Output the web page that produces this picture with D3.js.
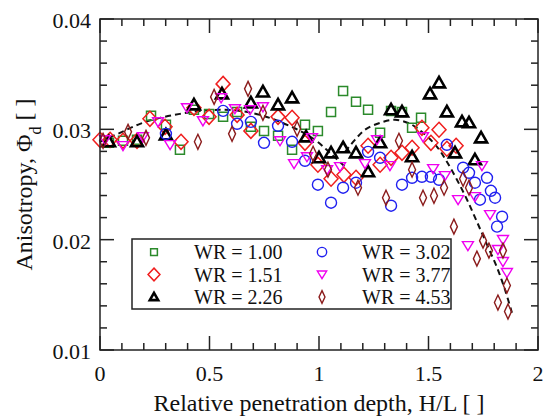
<!DOCTYPE html>
<html>
<head>
<meta charset="utf-8">
<script src="https://cdn.jsdelivr.net/npm/d3@7"></script>
<style>
  body { margin: 0; background: #fff; }
</style>
</head>
<body>
<div id="chart"></div>
<script>
// values: H/L (x) and anisotropy Phi_d (y)
var wr100X = [0.041, 0.105, 0.169, 0.233, 0.301, 0.365, 0.429, 0.498, 0.562, 0.626, 0.689, 0.749, 0.813, 0.877, 0.936, 0.995, 1.055, 1.110, 1.169, 1.224, 1.279, 1.329, 1.379, 1.425, 1.466];
var wr100Y = [0.02878, 0.02896, 0.02905, 0.03122, 0.03041, 0.02815, 0.03177, 0.03140, 0.03113, 0.03158, 0.03023, 0.02986, 0.02941, 0.02815, 0.03041, 0.02986, 0.03158, 0.03348, 0.03249, 0.03177, 0.02968, 0.03167, 0.03158, 0.03014, 0.03104];

var wr151X = [0.000, 0.046, 0.105, 0.169, 0.228, 0.297, 0.370, 0.429, 0.498, 0.562, 0.626, 0.689, 0.813, 0.877, 0.936, 0.995, 1.055, 1.114, 1.169, 1.224, 1.279, 1.329, 1.379, 1.425, 1.470, 1.511, 1.548, 1.584, 1.626];
var wr151Y = [0.02905, 0.02905, 0.02896, 0.02896, 0.03095, 0.03023, 0.02887, 0.03195, 0.03113, 0.03412, 0.03131, 0.02986, 0.03113, 0.03104, 0.02878, 0.02679, 0.02552, 0.02588, 0.02561, 0.02851, 0.02679, 0.02742, 0.02787, 0.02833, 0.03014, 0.02878, 0.02996, 0.02824, 0.02851];

var wr226X = [0.041, 0.169, 0.301, 0.429, 0.557, 0.689, 0.744, 0.813, 0.877, 0.941, 1.000, 1.055, 1.110, 1.169, 1.224, 1.279, 1.329, 1.379, 1.425, 1.507, 1.548, 1.584, 1.621, 1.653, 1.685, 1.712, 1.740];
var wr226Y = [0.02887, 0.02887, 0.02950, 0.03222, 0.03321, 0.03240, 0.03339, 0.03222, 0.03285, 0.02932, 0.02742, 0.02787, 0.02833, 0.02787, 0.02615, 0.02878, 0.03177, 0.03158, 0.02751, 0.03321, 0.03421, 0.03158, 0.02787, 0.03068, 0.03059, 0.02724, 0.02923];

var wr302X = [0.301, 0.562, 0.626, 0.689, 0.749, 0.813, 0.877, 0.936, 0.995, 1.055, 1.110, 1.169, 1.224, 1.279, 1.329, 1.379, 1.425, 1.470, 1.511, 1.548, 1.584, 1.658, 1.685, 1.712, 1.735, 1.767, 1.785, 1.804, 1.836, 1.813];
var wr302Y = [0.02959, 0.03167, 0.03050, 0.03068, 0.02878, 0.03032, 0.02887, 0.02715, 0.02498, 0.02335, 0.02471, 0.02516, 0.02796, 0.02742, 0.02308, 0.02498, 0.02561, 0.02570, 0.02570, 0.02543, 0.02860, 0.02652, 0.02606, 0.02516, 0.02362, 0.02561, 0.02443, 0.02380, 0.02208, 0.02118];

var wr377X = [0.023, 0.105, 0.196, 0.265, 0.320, 0.397, 0.470, 0.553, 0.616, 0.685, 0.744, 0.822, 0.886, 0.945, 0.968, 1.037, 1.096, 1.210, 1.265, 1.324, 1.475, 1.521, 1.575, 1.635, 1.712, 1.744, 1.781, 1.680, 1.840, 1.817, 1.840, 1.858];
var wr377Y = [0.02905, 0.02851, 0.02932, 0.03068, 0.02860, 0.03195, 0.03077, 0.03285, 0.03186, 0.03177, 0.03204, 0.02896, 0.02688, 0.02751, 0.02923, 0.02634, 0.02661, 0.02688, 0.02905, 0.02670, 0.02932, 0.02643, 0.02579, 0.02362, 0.02389, 0.02670, 0.02226, 0.01945, 0.02000, 0.01910, 0.01801, 0.01701];

var wr453X = [0.014, 0.128, 0.210, 0.447, 0.521, 0.603, 0.676, 0.744, 0.900, 0.973, 1.041, 1.178, 1.306, 1.365, 1.425, 1.475, 1.525, 1.571, 1.616, 1.658, 1.685, 1.721, 1.749, 1.776, 1.840, 1.858, 1.817, 1.863];
var wr453Y = [0.02896, 0.02977, 0.02923, 0.02887, 0.03294, 0.02959, 0.03367, 0.03149, 0.03005, 0.02778, 0.02634, 0.02471, 0.02380, 0.02896, 0.02634, 0.02380, 0.02398, 0.02471, 0.02118, 0.02552, 0.02471, 0.01828, 0.01991, 0.01901, 0.01901, 0.01584, 0.01430, 0.01349];

// dashed trend curves
var fitLowX = [0.000, 0.091, 0.183, 0.274, 0.365, 0.457, 0.548, 0.639, 0.731, 0.822, 0.913, 0.982, 1.050, 1.119];
var fitLowY = [0.02887, 0.02968, 0.03050, 0.03104, 0.03140, 0.03167, 0.03177, 0.03167, 0.03131, 0.03068, 0.02986, 0.02905, 0.02787, 0.02661];
var fitHighX = [1.119, 1.164, 1.210, 1.279, 1.347, 1.416, 1.475, 1.539, 1.584, 1.630, 1.676, 1.721, 1.767, 1.813, 1.849, 1.881];
var fitHighY = [0.02796, 0.02905, 0.02996, 0.03059, 0.03086, 0.03050, 0.02968, 0.02842, 0.02706, 0.02543, 0.02362, 0.02163, 0.01955, 0.01747, 0.01548, 0.01338];

var seriesNames = ["WR = 1.00", "WR = 1.51", "WR = 2.26", "WR = 3.02", "WR = 3.77", "WR = 4.53"];
var xTicks = [0, 0.5, 1, 1.5, 2];
var yTicks = [0.01, 0.02, 0.03, 0.04];

var width = 546, height = 418;
var margin = { top: 19, right: 8, bottom: 68, left: 100 };
var serif = "'Liberation Serif'";

var svg = d3.select("#chart").append("svg")
    .attr("width", width)
    .attr("height", height);

var x = d3.scaleLinear().domain([0, 2]).range([margin.left, width - margin.right]);
var y = d3.scaleLinear().domain([0.01, 0.04]).range([height - margin.bottom, margin.top]);

// marker shapes, drawn around 0,0
function markerPath(kind, s) {
    var p = d3.path();
    if (kind == "square") {
        var h = 4.5 * s;
        p.rect(-h, -h, 2 * h, 2 * h);
    } else if (kind == "diamond") {
        var w = 7 * s, t = 7.5 * s;
        p.moveTo(0, -t); p.lineTo(w, 0); p.lineTo(0, t); p.lineTo(-w, 0); p.closePath();
    } else if (kind == "triangle") {
        var a = 6 * s;
        p.moveTo(0, -a); p.lineTo(a, a * 0.75); p.lineTo(-a, a * 0.75); p.closePath();
    } else if (kind == "circle") {
        p.arc(0, 0, 5.5 * s, 0, 2 * Math.PI);
    } else if (kind == "down") {
        var b = 5.5 * s;
        p.moveTo(-b, -b * 0.75); p.lineTo(b, -b * 0.75); p.lineTo(0, b * 0.9); p.closePath();
    } else if (kind == "thin") {
        var w2 = 3.5 * s, t2 = 7.5 * s;
        p.moveTo(0, -t2); p.lineTo(w2, 0); p.lineTo(0, t2); p.lineTo(-w2, 0); p.closePath();
    }
    return p.toString();
}

var series = [
    { name: seriesNames[0], xs: wr100X, ys: wr100Y, kind: "square", color: "#2b8a2b", sw: 1.5 },
    { name: seriesNames[1], xs: wr151X, ys: wr151Y, kind: "diamond", color: "#f01e1e", sw: 1.5 },
    { name: seriesNames[2], xs: wr226X, ys: wr226Y, kind: "triangle", color: "#000000", sw: 2.6 },
    { name: seriesNames[3], xs: wr302X, ys: wr302Y, kind: "circle", color: "#2020f0", sw: 1.4 },
    { name: seriesNames[4], xs: wr377X, ys: wr377Y, kind: "down", color: "#f000f0", sw: 1.4 },
    { name: seriesNames[5], xs: wr453X, ys: wr453Y, kind: "thin", color: "#8b1c1c", sw: 1.4 }
];

// dashed curves
var line = d3.line()
    .x(function (d) { return x(d[0]); })
    .y(function (d) { return y(d[1]); })
    .curve(d3.curveCatmullRom);

[[fitLowX, fitLowY], [fitHighX, fitHighY]].forEach(function (c) {
    svg.append("path")
        .datum(d3.zip(c[0], c[1]))
        .attr("d", line)
        .attr("fill", "none")
        .attr("stroke", "#111")
        .attr("stroke-width", 2)
        .attr("stroke-dasharray", "6,4");
});

// points
series.forEach(function (s) {
    svg.append("g").selectAll("path")
        .data(d3.zip(s.xs, s.ys))
        .join("path")
        .attr("transform", function (d) { return "translate(" + x(d[0]) + "," + y(d[1]) + ")"; })
        .attr("d", markerPath(s.kind, 1))
        .attr("fill", "none")
        .attr("stroke", s.color)
        .attr("stroke-width", s.sw)
        .attr("stroke-linejoin", "miter");
});

// frame and inward ticks
var x0 = x(0), x1 = x(2), y0 = y(0.01), y1 = y(0.04);
var frame = svg.append("g").attr("stroke", "#222").attr("stroke-width", 1.5);
frame.append("rect")
    .attr("x", x0).attr("y", y1)
    .attr("width", x1 - x0).attr("height", y0 - y1)
    .attr("fill", "none");

var xMinor = d3.range(0, 2.0001, 0.1);
xMinor.forEach(function (v) {
    var major = Math.abs(v * 2 - Math.round(v * 2)) < 1e-6;
    var len = major ? 14 : 7;
    frame.append("line").attr("x1", x(v)).attr("x2", x(v)).attr("y1", y0).attr("y2", y0 - len);
    frame.append("line").attr("x1", x(v)).attr("x2", x(v)).attr("y1", y1).attr("y2", y1 + len);
});
var yMinor = d3.range(0.01, 0.04001, 0.002);
yMinor.forEach(function (v) {
    var major = Math.abs(v * 100 - Math.round(v * 100)) < 1e-6;
    var len = major ? 14 : 7;
    frame.append("line").attr("y1", y(v)).attr("y2", y(v)).attr("x1", x0).attr("x2", x0 + len);
    frame.append("line").attr("y1", y(v)).attr("y2", y(v)).attr("x1", x1).attr("x2", x1 - len);
});

// tick labels
svg.append("g").selectAll("text")
    .data(xTicks)
    .join("text")
    .attr("x", function (d) { return x(d); })
    .attr("y", y0 + 31)
    .attr("text-anchor", "middle")
    .attr("fill", "#111")
    .style("font-family", serif)
    .style("font-size", "22px")
    .text(function (d) { return d3.format("")(d); });

svg.append("g").selectAll("text")
    .data(yTicks)
    .join("text")
    .attr("x", x0 - 9)
    .attr("y", function (d) { return y(d) + 9; })
    .attr("text-anchor", "end")
    .attr("fill", "#111")
    .style("font-family", serif)
    .style("font-size", "22px")
    .text(function (d) { return d.toFixed(2); });

// axis titles
svg.append("text")
    .attr("x", (x0 + x1) / 2)
    .attr("y", 411)
    .attr("text-anchor", "middle")
    .attr("fill", "#111")
    .style("font-family", serif)
    .style("font-size", "24px")
    .text("Relative penetration depth, H/L [ ]");

var yt = svg.append("text")
    .attr("transform", "translate(32," + ((y0 + y1) / 2) + ") rotate(-90)")
    .attr("text-anchor", "middle")
    .attr("fill", "#111")
    .style("font-family", serif)
    .style("font-size", "24px");
yt.append("tspan").text("Anisotropy, Φ");
yt.append("tspan").attr("baseline-shift", "sub").style("font-size", "16px").text("d");
yt.append("tspan").text(" [ ]");

// legend
var lg = svg.append("g");
lg.append("rect")
    .attr("x", 132).attr("y", 239)
    .attr("width", 319).attr("height", 70)
    .attr("fill", "#fff")
    .attr("stroke", "#222")
    .attr("stroke-width", 1.5);

series.forEach(function (s, i) {
    var col = Math.floor(i / 3), row = i % 3;
    var sx = 154 + col * 168, sy = 252 + row * 22.5;
    var sc = s.kind == "square" ? 0.75 : (s.kind == "triangle" ? 0.7 : 0.85);
    lg.append("path")
        .attr("transform", "translate(" + sx + "," + sy + ")")
        .attr("d", markerPath(s.kind, sc))
        .attr("fill", "none")
        .attr("stroke", s.color)
        .attr("stroke-width", s.sw);
    lg.append("text")
        .attr("x", sx + 40)
        .attr("y", sy + 7)
        .attr("fill", "#111")
        .style("font-family", serif)
        .style("font-size", "20px")
        .text(s.name);
});
</script>
</body>
</html>
